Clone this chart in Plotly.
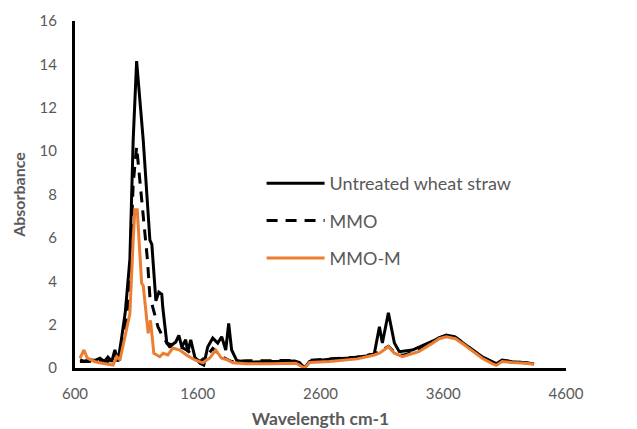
import plotly.graph_objects as go

# Untreated wheat straw
wn_untreated = [641, 680, 706, 763, 803, 840, 868, 900, 925, 950, 980, 1010, 1047, 1074, 1102,
                1156, 1196, 1210, 1226, 1242, 1259, 1283, 1307, 1315, 1348, 1389, 1421, 1446,
                1470, 1502, 1519, 1543, 1576, 1616, 1649, 1681, 1722, 1763, 1795, 1828, 1852,
                1876, 1917, 1998, 2104, 2267, 2389, 2429, 2470, 2511, 2673, 2836, 2974, 3039,
                3080, 3104, 3153, 3202, 3242, 3348, 3470, 3567, 3624, 3689, 3787, 3917, 3998,
                4031, 4080, 4161, 4275, 4340]
abs_untreated = [0.37, 0.3, 0.4, 0.35, 0.45, 0.3, 0.5, 0.3, 0.83, 0.3, 1.4, 2.6, 5.0, 10.5, 14.15,
                 10.5, 7.1, 5.9, 5.7, 4.4, 3.1, 3.5, 3.4, 2.8, 1.15, 1.06, 1.2, 1.5,
                 0.97, 1.3, 0.74, 1.3, 0.5, 0.23, 0.14, 0.97, 1.38, 1.15, 1.44, 0.83, 2.05,
                 0.83, 0.35, 0.27, 0.28, 0.3, 0.32, 0.25, 0.0, 0.3, 0.4, 0.46, 0.55, 0.68,
                 1.9, 1.15, 2.55, 1.15, 0.75, 0.83, 1.15, 1.4, 1.52, 1.45, 1.06, 0.52, 0.29,
                 0.2, 0.37, 0.29, 0.24, 0.18]

# MMO
wn_mmo = [641, 706, 803, 868, 925, 960, 990, 1020, 1047, 1074, 1102, 1128, 1161, 1190, 1210,
          1250, 1276, 1315, 1370, 1420, 1470, 1520, 1576, 1620, 1681, 1722, 1763, 1800, 1876,
          2000, 2200, 2400, 2470, 2511, 2673, 2900, 3039, 3080, 3153, 3202, 3267, 3400, 3500,
          3567, 3624, 3700, 3787, 3917, 3998, 4031, 4080, 4161, 4275, 4340]
abs_mmo = [0.3, 0.3, 0.35, 0.3, 0.6, 0.35, 1.2, 2.2, 4.5, 8.5, 10.2, 8.7, 6.5, 5.0, 3.3,
           2.5, 1.9, 1.44, 0.98, 1.0, 0.95, 0.8, 0.45, 0.3, 0.6, 0.9, 0.7, 0.5, 0.3,
           0.33, 0.34, 0.35, 0.0, 0.35, 0.42, 0.5, 0.65, 0.75, 1.0, 0.72, 0.58, 0.8, 1.15,
           1.4, 1.5, 1.42, 1.05, 0.5, 0.27, 0.18, 0.35, 0.28, 0.24, 0.18]

# MMO-M
wn_mmom = [641, 673, 700, 763, 845, 910, 940, 966, 1007, 1047, 1074, 1088, 1107, 1123, 1143,
           1156, 1176, 1196, 1215, 1242, 1291, 1318, 1356, 1397, 1453, 1508, 1576, 1641, 1698,
           1746, 1792, 1844, 1885, 2000, 2200, 2400, 2470, 2511, 2673, 2900, 3039, 3080, 3153,
           3202, 3267, 3400, 3500, 3567, 3624, 3700, 3787, 3917, 3998, 4031, 4080, 4161, 4275,
           4340]
abs_mmom = [0.45, 0.83, 0.46, 0.29, 0.2, 0.14, 0.52, 0.37, 1.44, 2.5, 5.9, 7.3, 7.3, 5.9, 3.9,
            3.8, 2.8, 1.6, 2.2, 0.68, 0.52, 0.68, 0.6, 0.92, 0.83, 0.6, 0.37, 0.24, 0.46,
            0.83, 0.46, 0.37, 0.24, 0.2, 0.2, 0.22, 0.0, 0.25, 0.3, 0.42, 0.6, 0.68, 0.98,
            0.68, 0.52, 0.75, 1.1, 1.35, 1.44, 1.35, 1.0, 0.45, 0.2, 0.12, 0.3, 0.25, 0.22,
            0.17]

x_ticks = [600, 1600, 2600, 3600, 4600]
y_ticks = [0, 2, 4, 6, 8, 10, 12, 14, 16]

GRAY = "#595959"
FONT = "Lato"

fig = go.Figure()
fig.add_trace(go.Scatter(x=wn_untreated, y=abs_untreated, mode="lines",
                         name="Untreated wheat straw", legendgroup="a",
                         line=dict(color="black", width=3)))
fig.add_trace(go.Scatter(x=wn_mmo, y=abs_mmo, mode="lines", name="MMO", legendgroup="b",
                         line=dict(color="black", width=3, dash="11px,8px")))
fig.add_trace(go.Scatter(x=wn_mmom, y=abs_mmom, mode="lines", name="MMO-M", legendgroup="c",
                         line=dict(color="#ED7D31", width=3)))

fig.update_layout(
    width=629, height=421,
    margin=dict(l=67, r=71, t=13, b=61, autoexpand=False),
    plot_bgcolor="white", paper_bgcolor="white",
    font=dict(family=FONT, color=GRAY, size=15),
    showlegend=True,
    legend=dict(x=0.38, y=0.585, xanchor="left", yanchor="top",
                font=dict(size=18, color=GRAY, family=FONT),
                tracegroupgap=11, itemwidth=58, bgcolor="rgba(0,0,0,0)"),
    xaxis=dict(range=[600, 4600], tickvals=x_ticks, ticks="", showgrid=False,
               showline=True, linecolor="black", linewidth=3, zeroline=False,
               automargin=False,
               tickfont=dict(size=15, color=GRAY, family=FONT), ticklabelstandoff=10,
               title=dict(text="<b>Wavelength cm-1</b>", font=dict(size=17.5, color=GRAY, family=FONT),
                          standoff=14)),
    yaxis=dict(range=[0, 16], tickvals=y_ticks, ticks="", showgrid=False,
               showline=True, linecolor="black", linewidth=3, zeroline=False,
               automargin=False,
               tickfont=dict(size=15, color=GRAY, family=FONT), ticklabelstandoff=12,
               title=dict(text="<b>Absorbance</b>", font=dict(size=16, color=GRAY, family=FONT),
                          standoff=10)),
)

fig.write_html("out.html")
